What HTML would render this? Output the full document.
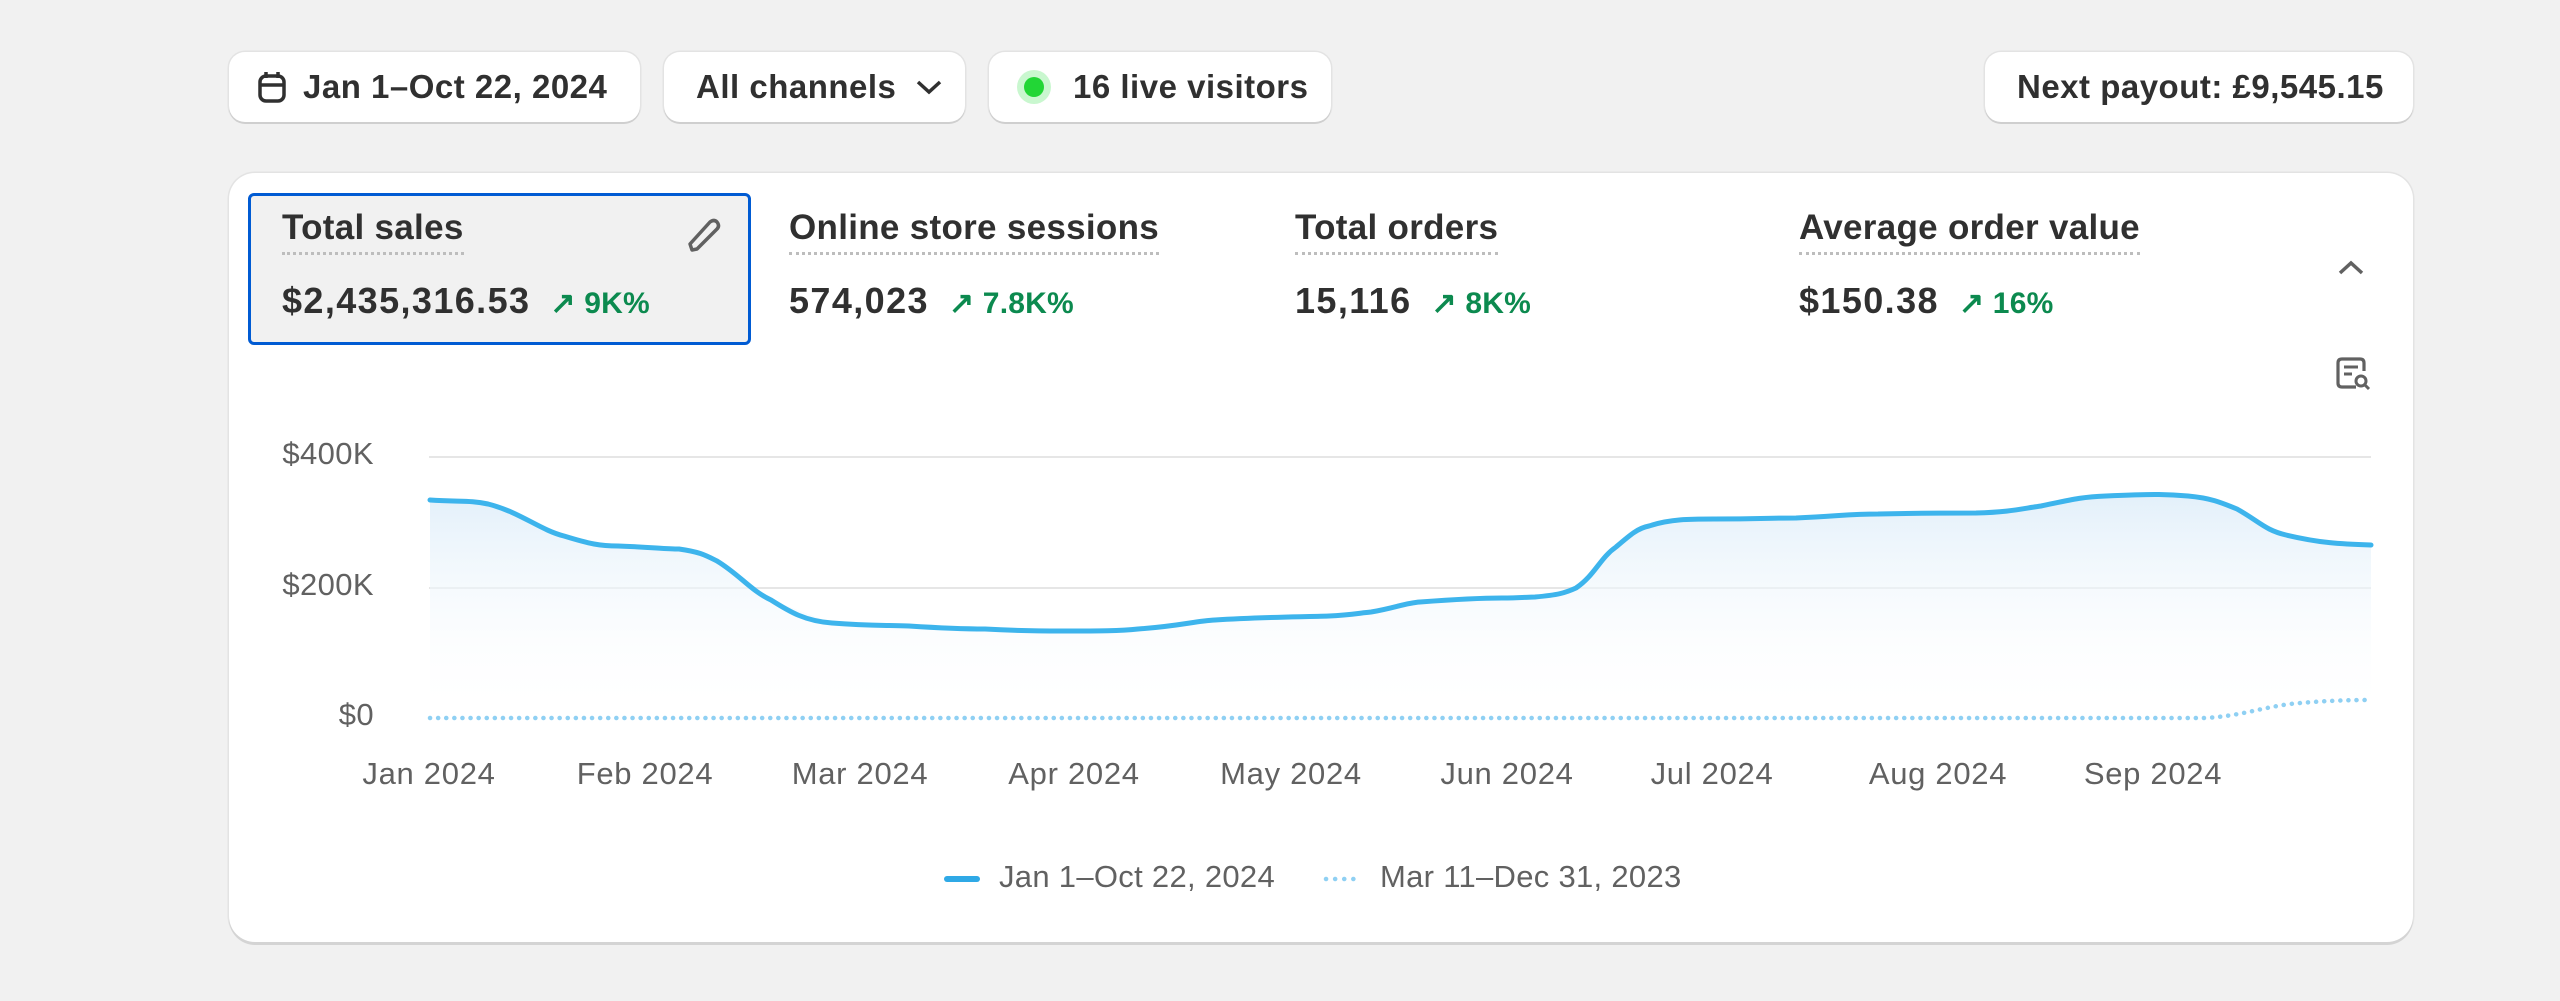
<!DOCTYPE html>
<html><head><style>
body{margin:0;width:2560px;height:1001px;background:#f1f1f1;font-family:"Liberation Sans",sans-serif;position:relative;overflow:hidden;color:#303030}
.btn{position:absolute;top:52px;height:70px;background:#fff;border-radius:16px;box-shadow:0 2px 0 #cfcfcf,0 0 0 1.5px #e3e3e3;font-size:33px;letter-spacing:0.5px;font-weight:600;display:flex;align-items:center;box-sizing:border-box;color:#303030;white-space:nowrap}
.card{position:absolute;left:229px;top:173px;width:2184px;height:769px;background:#fff;border-radius:26px;box-shadow:0 3px 0 #d4d4d4,0 0 0 1.5px #e3e3e3}
.tile{position:absolute;left:248px;top:193px;width:503px;height:152px;background:#f1f1f1;border:3px solid #005bd3;border-radius:6px;box-sizing:border-box}
.mt{position:absolute;top:208px;font-size:35px;letter-spacing:0.3px;font-weight:600;color:#303030;border-bottom:3px dotted #bdbdbd;padding-bottom:4px;white-space:nowrap}
.mv{position:absolute;top:280px;font-size:36px;letter-spacing:1.4px;font-weight:700;color:#303030;white-space:nowrap}
.mv span{color:#0c8a4f;font-size:30px;letter-spacing:0.2px;font-weight:600;margin-left:20px}
.yl{position:absolute;right:2186px;font-size:31px;letter-spacing:0.4px;color:#616161}
.xl{position:absolute;top:756px;font-size:31px;letter-spacing:0.7px;color:#616161;transform:translateX(-50%);white-space:nowrap}
.lg{position:absolute;top:859px;font-size:31px;letter-spacing:0.3px;color:#616161;white-space:nowrap}
</style></head><body>
<div class="btn" style="left:229px;width:411px;padding-left:28px">
<svg width="30" height="34" viewBox="0 0 30 34" style="margin-right:16px"><rect x="3" y="6" width="24" height="25" rx="6" fill="none" stroke="#303030" stroke-width="3.5"/><line x1="3" y1="15" x2="27" y2="15" stroke="#303030" stroke-width="3.5"/><line x1="9" y1="2" x2="9" y2="8" stroke="#303030" stroke-width="3.5"/><line x1="21" y1="2" x2="21" y2="8" stroke="#303030" stroke-width="3.5"/></svg>Jan 1–Oct 22, 2024</div>
<div class="btn" style="left:664px;width:301px;padding-left:32px">All channels<svg width="30" height="20" style="margin-left:18px"><polyline points="4,5 15,15 26,5" fill="none" stroke="#303030" stroke-width="3.5"/></svg></div>
<div class="btn" style="left:989px;width:342px;padding-left:28px"><span style="width:34px;height:34px;border-radius:50%;background:#c9f7cf;display:inline-flex;align-items:center;justify-content:center;margin-right:22px"><span style="width:20px;height:20px;border-radius:50%;background:#22d636"></span></span>16 live visitors</div>
<div class="btn" style="left:1985px;width:428px;padding-left:32px">Next payout: £9,545.15</div>
<div class="card"></div>
<div class="tile"></div>
<div class="mt" style="left:282px">Total sales</div>
<svg style="position:absolute;left:684px;top:216px" width="40" height="40"><path d="M8 34 L6 28 L26 6 Q30 3 33 6 Q36 10 33 13 L13 33 Z" fill="none" stroke="#616161" stroke-width="3.5" stroke-linejoin="round"/></svg>
<div class="mv" style="left:282px">$2,435,316.53<span>↗ 9K%</span></div>
<div class="mt" style="left:789px">Online store sessions</div>
<div class="mv" style="left:789px">574,023<span>↗ 7.8K%</span></div>
<div class="mt" style="left:1295px">Total orders</div>
<div class="mv" style="left:1295px">15,116<span>↗ 8K%</span></div>
<div class="mt" style="left:1799px">Average order value</div>
<div class="mv" style="left:1799px">$150.38<span>↗ 16%</span></div>
<svg style="position:absolute;left:2336px;top:258px" width="30" height="20"><polyline points="4,15 15,5 26,15" fill="none" stroke="#616161" stroke-width="3.5"/></svg>
<svg style="position:absolute;left:2334px;top:355px" width="38" height="38"><path d="M22 32 H8 Q4 32 4 28 V8 Q4 4 8 4 H26 Q30 4 30 8 V16" fill="none" stroke="#616161" stroke-width="3.2"/><line x1="10" y1="12" x2="24" y2="12" stroke="#616161" stroke-width="3"/><line x1="10" y1="19" x2="18" y2="19" stroke="#616161" stroke-width="3"/><circle cx="27" cy="26" r="5" fill="none" stroke="#616161" stroke-width="3"/><line x1="31" y1="30" x2="35" y2="34" stroke="#616161" stroke-width="3"/></svg>
<div class="yl" style="top:436px">$400K</div>
<div class="yl" style="top:567px">$200K</div>
<div class="yl" style="top:697px">$0</div>
<svg style="position:absolute;left:0;top:0" width="2560" height="1001">
<defs><linearGradient id="g" x1="0" y1="0" x2="0" y2="1"><stop offset="0" stop-color="#e3f0fa" stop-opacity="1"/><stop offset="1" stop-color="#ffffff" stop-opacity="0"/></linearGradient></defs>
<line x1="429" y1="457" x2="2371" y2="457" stroke="#e6e6e6" stroke-width="2"/>
<line x1="429" y1="588" x2="2371" y2="588" stroke="#e6e6e6" stroke-width="2"/>
<path d="M430,500 L488,504 L564,536 L618,546 L679,549 L717,561 L771,600 L832,623 L909,626 L985,629 L1062,631 L1138,629 L1215,620 L1329,616 L1371,612 L1420,602 L1502,598 L1535,597 L1576,588 L1616,547 L1649,526 L1714,519 L1796,518 L1878,514 L1976,513 L2041,506 L2106,496 L2188,496 L2237,509 L2286,535 L2371,545 L2371,718 L430,718 Z" fill="url(#g)"/>
<path d="M430,500 C460,502 470,500 488,504 C520,512 540,530 564,536 C590,544 600,546 618,546 C650,547 665,549 679,549 C700,552 705,555 717,561 C740,575 750,590 771,600 C790,612 805,621 832,623 C870,626 885,625 909,626 C940,628 960,629 985,629 C1020,631 1040,631 1062,631 C1100,631 1120,631 1138,629 C1180,626 1195,621 1215,620 C1260,617 1300,617 1329,616 C1350,615 1360,613 1371,612 C1395,608 1405,603 1420,602 C1460,599 1480,598 1502,598 C1520,598 1528,597 1535,597 C1558,595 1565,593 1576,588 C1595,575 1600,558 1616,547 C1630,535 1638,528 1649,526 C1670,519 1690,519 1714,519 C1760,519 1770,518 1796,518 C1840,516 1850,514 1878,514 C1920,513 1950,513 1976,513 C2010,512 2020,509 2041,506 C2070,500 2080,497 2106,496 C2150,494 2165,494 2188,496 C2210,498 2220,502 2237,509 C2260,522 2265,530 2286,535 C2320,543 2340,544 2371,545" fill="none" stroke="#3db4ec" stroke-width="5" stroke-linecap="round"/>
<path d="M430,718 L2205,718 C2240,716 2260,708 2290,704 C2320,701 2345,700 2371,700" fill="none" stroke="#8fd0f3" stroke-width="4.5" stroke-dasharray="0.1 8" stroke-linecap="round"/>
<line x1="947" y1="879" x2="977" y2="879" stroke="#2fa9e6" stroke-width="6" stroke-linecap="round"/>
<line x1="1326" y1="879" x2="1354" y2="879" stroke="#8fd0f3" stroke-width="4.5" stroke-dasharray="0.1 9" stroke-linecap="round"/>
</svg>
<div class="xl" style="left:429px">Jan 2024</div>
<div class="xl" style="left:645px">Feb 2024</div>
<div class="xl" style="left:860px">Mar 2024</div>
<div class="xl" style="left:1074px">Apr 2024</div>
<div class="xl" style="left:1291px">May 2024</div>
<div class="xl" style="left:1507px">Jun 2024</div>
<div class="xl" style="left:1712px">Jul 2024</div>
<div class="xl" style="left:1938px">Aug 2024</div>
<div class="xl" style="left:2153px">Sep 2024</div>
<div class="lg" style="left:999px">Jan 1–Oct 22, 2024</div>
<div class="lg" style="left:1380px">Mar 11–Dec 31, 2023</div>
</body></html>
